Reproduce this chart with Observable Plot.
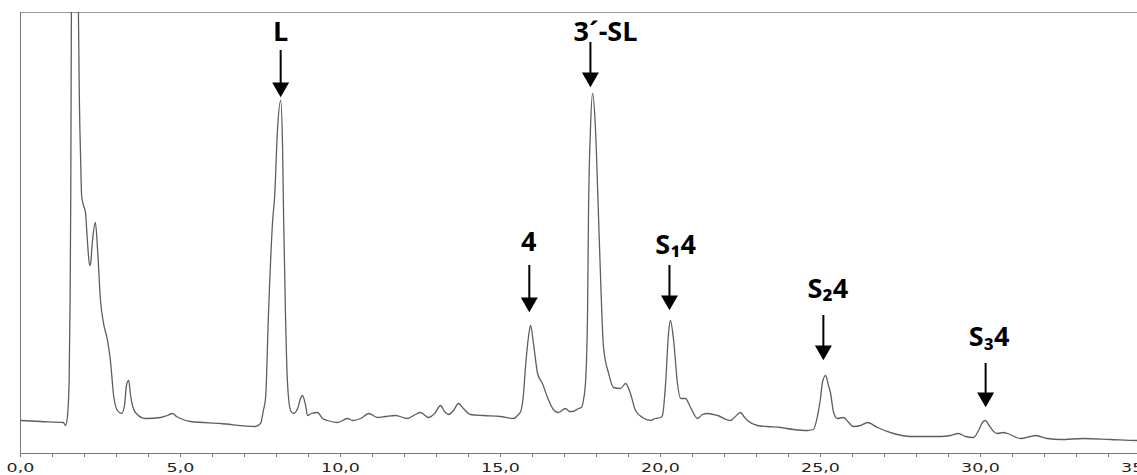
<!DOCTYPE html>
<html>
<head>
<meta charset="utf-8">
<script src="https://cdn.jsdelivr.net/npm/d3@7"></script>
<script src="https://cdn.jsdelivr.net/npm/@observablehq/plot@0.6"></script>
<style>
  html, body { margin: 0; padding: 0; background: #fff; }
  #chart svg { display: block; }
</style>
</head>
<body>
<div id="chart"></div>
<script>
// Retention time (min)
const times = [0.00,0.63,1.34,1.41,1.47,1.52,1.55,1.57,1.59,1.69,1.81,1.84,1.88,1.91,1.97,2.03,2.09,2.16,2.19,2.25,
  2.34,2.41,2.50,2.59,2.72,2.81,2.91,3.03,3.16,3.25,3.31,3.38,3.44,3.50,3.59,3.91,4.38,4.59,4.75,4.88,
  5.00,5.31,6.25,7.34,7.50,7.59,7.66,7.75,7.88,7.94,8.03,8.13,8.19,8.22,8.28,8.34,8.44,8.53,8.66,8.75,
  8.81,8.91,8.97,9.09,9.28,9.44,9.59,9.91,10.22,10.38,10.63,10.88,11.16,11.41,11.72,12.09,12.34,12.50,12.75,12.94,
  13.13,13.25,13.38,13.53,13.69,13.84,14.06,14.47,15.00,15.41,15.53,15.63,15.72,15.78,15.88,15.94,16.03,16.16,16.31,16.47,
  16.63,16.81,17.03,17.16,17.25,17.44,17.53,17.59,17.66,17.72,17.75,17.81,17.88,17.97,18.06,18.13,18.22,18.38,18.53,18.75,
  18.91,19.06,19.22,19.44,19.69,19.84,20.00,20.06,20.16,20.25,20.31,20.41,20.53,20.63,20.78,20.94,21.16,21.31,21.47,21.78,
  22.19,22.34,22.50,22.63,22.72,23.03,23.34,23.75,24.16,24.59,24.78,24.91,25.00,25.06,25.16,25.25,25.31,25.41,25.53,25.72,
  25.88,26.03,26.25,26.47,26.78,27.28,27.81,28.75,29.06,29.31,29.53,29.78,29.94,30.06,30.16,30.25,30.41,30.53,30.72,30.84,
  31.25,31.56,31.72,32.09,32.50,33.22,34.06,34.91,35.16];
// Detector signal (mAU)
const signal = [33,32,31,28,38,73,153,253,441,853,441,353,293,258,248,241,213,188,190,213,
  231,203,153,131,113,93,58,43,40,48,68,73,58,48,41,35,36,38,40,37,
  35,32,30,27,30,43,56,140,233,256,323,353,306,240,140,73,43,40,45,55,
  58,48,38,40,41,35,33,31,35,33,35,40,36,37,38,35,39,41,36,40,
  48,42,39,43,50,45,39,38,37,35,38,42,60,86,118,128,110,80,70,56,
  45,41,45,42,42,45,46,53,73,140,240,323,360,323,240,173,106,80,66,65,
  70,60,43,36,33,35,36,38,70,120,133,113,70,55,55,46,35,39,40,38,
  33,37,41,36,33,28,27,26,24,23,24,38,55,71,78,68,61,41,35,36,
  31,27,28,31,26,20,17,17,18,20,17,16,23,31,33,29,22,20,21,20,
  15,17,18,15,14,15,14,13,13];

// Tick values
const majorTicks = [0, 5, 10, 15, 20, 25, 30, 35];
const minorTicks = d3.range(0, 36, 1);

// Peak annotations
const annLabels = ["L", "3´-SL", "4", "S₁4", "S₂4", "S₃4"];
const annX      = [8.13, 17.81, 15.90, 20.28, 25.09, 30.16];   // arrow position (min)
const annTextX  = [8.13, 18.28, 15.88, 20.47, 25.23, 30.27];   // label centre (min)
const annTip    = [356, 366, 141, 143, 93, 46];                 // arrow tip (mAU)
const annTail   = [403, 411, 188, 188, 138, 90];                // arrow tail (mAU)
const annText   = [413, 413, 203, 200, 156, 108];               // label baseline (mAU)

const trace = times.map((t, i) => ({t, v: signal[i]}));
const ann = annLabels.map((label, i) => ({
  label, x: annX[i], tx: annTextX[i], tip: annTip[i], tail: annTail[i], ty: annText[i]
}));

const fmt = d => d.toFixed(1).replace(".", ",");

const chart = Plot.plot({
  width: 1137,
  height: 475,
  marginLeft: 20,
  marginRight: 0,
  marginTop: 12,
  marginBottom: 22,
  style: {background: "#fff"},
  x: {domain: [0, 35], range: [20, 1140]},
  y: {domain: [0, 441], range: [453, 12]},
  marks: [
    Plot.axisX({ticks: minorTicks, tickSize: 4, tickFormat: () => "", stroke: "#777"}),
    Plot.axisX({ticks: majorTicks, tickSize: 4, tickPadding: 6, tickFormat: fmt,
      fontFamily: "DejaVu Sans", fontSize: 12.5, fill: "#222", stroke: "#777"}),
    Plot.axisY({ticks: [], label: null}),
    Plot.ruleY([0], {stroke: "#777", strokeWidth: 1}),
    Plot.ruleY([441], {stroke: "#999", strokeWidth: 1}),
    Plot.ruleX([0], {stroke: "#777", strokeWidth: 1}),
    Plot.line(trace, {x: "t", y: "v", stroke: "#5e5e5e", strokeWidth: 1.3, curve: "monotone-x", clip: true}),
    Plot.ruleX(ann, {x: "x", y1: "tail", y2: d => d.tip + 8, stroke: "#000", strokeWidth: 2}),
    Plot.dot(ann, {x: "x", y: "tip", symbol: "triangle", rotate: 180, r: 6.3, fill: "#000", stroke: "none", dy: -10}),
    Plot.text(ann, {x: "tx", y: "ty", text: "label", lineAnchor: "bottom", fontFamily: "Open Sans, DejaVu Sans",
      fontWeight: "bold", fontSize: 27, fill: "#000"})
  ]
});

// widen tick labels to match the extended face of the original
chart.querySelectorAll('g[aria-label="x-axis tick label"] text').forEach(t => {
  const tr = t.getAttribute("transform") || "";
  const x = +(t.getAttribute("x") || 0);
  t.setAttribute("transform", `${tr} translate(${x},0) scale(1.4,1) translate(${-x},0)`);
});

document.getElementById("chart").appendChild(chart);
</script>
</body>
</html>
